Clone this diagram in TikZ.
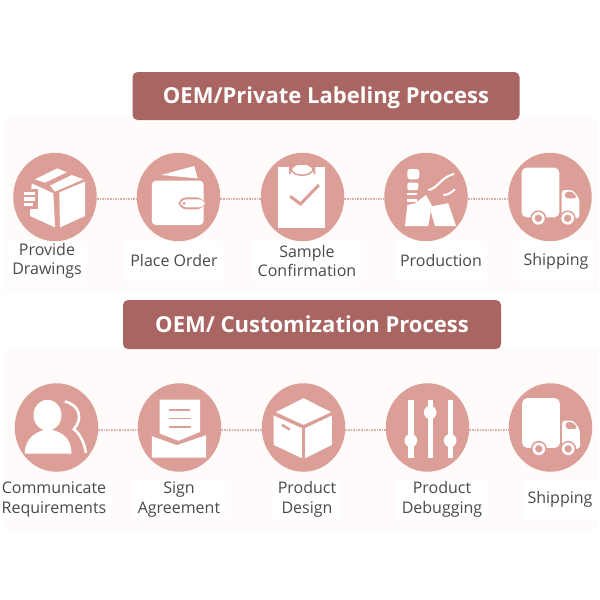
\documentclass[tikz,border=0pt]{standalone}
\usepackage{fontspec}
\setmainfont{Open Sans}
\usepackage{tikz}
\usetikzlibrary{shapes.geometric}
\definecolor{rosefill}{HTML}{DC9F98}
\definecolor{rosedark}{HTML}{A96562}
\definecolor{rosedots}{HTML}{DDAFAA}
\definecolor{panelpink}{HTML}{FEFBFA}
\definecolor{labelgray}{HTML}{4A4A4E}
\tikzset{
    stage/.style={ellipse, fill=rosefill, minimum width=83.5, minimum height=88.5, inner sep=0},
    banner/.style={rectangle, rounded corners=5, fill=rosedark, text=white, inner sep=0,
        text height=18, text depth=3, font=\fontsize{22}{26}\selectfont\bfseries},
    stagelabel/.style={fill=white, text=labelgray, align=center, inner sep=0, inner xsep=5,
        minimum height=40, font=\fontsize{16}{19.5}\selectfont},
    link/.style={rosedots, line width=1.6, densely dotted, transform canvas={yshift=-2.2}},
    ink/.style={fill=white, draw=none},
    pics/truck/.style={code={
        \fill[white, rounded corners=5] (-85,-88) rectangle (28,61);
        \fill[white, rounded corners=3] (35,-21) -- (68,-21) -- (88,5) -- (88,64) -- (35,64) -- cycle;
        \fill[rosefill, rounded corners=3] (45,-16) -- (68,-16) -- (82,4) -- (45,4) -- cycle;
        \foreach \wx in {-35,53} {
            \fill[rosefill] (\wx,64) circle (24);
            \fill[white] (\wx,64) circle (19);
            \fill[rosefill] (\wx,64) circle (11);
        }
    }}
}

\begin{document}
\begin{tikzpicture}[x=1pt, y=-1pt]
        \useasboundingbox (0,0) rectangle (600,600);
        % Panels
        \fill[panelpink] (4,118) rectangle (598,292);
        \fill[panelpink] (4,349) rectangle (598,530);

        % Banners
        \node[banner, minimum width=387, minimum height=48] (title1) at (326,96) {OEM/Private Labeling Process};
        \node[banner, minimum width=378, minimum height=49] (title2) at (312,324.5) {OEM/ Customization Process};

        % Labels
        \node[stagelabel] (label1) at (47,261) {Provide\\Drawings};
        \node[stagelabel] (label2) at (174,260.5) {Place Order};
        \node[stagelabel] (label3) at (307,261) {Sample\\Confirmation};
        \node[stagelabel] (label4) at (441,260.5) {Production};
        \node[stagelabel] (label5) at (556,261) {Shipping};
        \node[stagelabel] (label6) at (54,499.5) {Communicate\\Requirements};
        \node[stagelabel] (label7) at (179,499.5) {Sign\\Agreement};
        \node[stagelabel] (label8) at (307,499.5) {Product\\Design};
        \node[stagelabel] (label9) at (442,499.5) {Product\\Debugging};
        \node[stagelabel] (label10) at (560,499.5) {Shipping};

        % Circles
        \node[stage] (box) at (55,197) {};
        \node[stage] (wallet) at (178.5,197) {};
        \node[stage] (clipboard) at (302.5,197) {};
        \node[stage] (factory) at (426,197) {};
        \node[stage] (truck1) at (550,197) {};
        \node[stage] (person) at (56.5,427.5) {};
        \node[stage] (letter) at (179.5,427.5) {};
        \node[stage] (carton) at (303.5,427.5) {};
        \node[stage] (sliders) at (427.5,427.5) {};
        \node[stage] (truck2) at (550.5,427.5) {};

        % Dotted links
        \draw[link] (box) -- (wallet);
        \draw[link] (wallet) -- (clipboard);
        \draw[link] (clipboard) -- (factory);
        \draw[link] (factory) -- (truck1);
        \draw[link] (person) -- (letter);
        \draw[link] (letter) -- (carton);
        \draw[link] (carton) -- (sliders);
        \draw[link] (sliders) -- (truck2);

        % Icon: box and hand
        \begin{scope}[shift={(box.center)}, scale=1/3]
            \fill[ink] (-60,-53) -- (7,-86) -- (35,-74) -- (-30,-43) -- cycle;
            \fill[ink] (-15,-34) -- (50,-66) -- (85,-53) -- (0,-16) -- cycle;
            \fill[ink] (-70,-41) -- (-5,-11) -- (0,91) -- (-75,57) -- cycle;
            \fill[ink] (13,-14) -- (90,-46) -- (90,57) -- (15,91) -- cycle;
            \fill[rosefill] (-80,-25) rectangle (-52,35);
            \fill[ink] (-93,-16) rectangle (-60,-6);
            \fill[ink] (-93,1) rectangle (-60,11);
            \fill[ink] (-93,17) rectangle (-65,27);
        \end{scope}

        % Icon: wallet
        \begin{scope}[shift={(wallet.center)}, scale=1/3]
            \fill[ink] (-52,-66) -- (47,-93) -- (57,-56) -- cycle;
            \fill[white, rounded corners=4] (-80,-49) rectangle (75,84);
            \fill[rosefill, rounded corners=8] (0,1) rectangle (78,37);
            \fill[white, rounded corners=6] (6,7) rectangle (78,31);
            \fill[rosefill] (17,19) circle (5);
        \end{scope}

        % Icon: clipboard
        \begin{scope}[shift={(clipboard.center)}, scale=1/3]
            \fill[ink] (-73,-89) rectangle (66,94);
            \fill[white, draw=rosefill, line width=1.5, rounded corners=10] (-38,-99) rectangle (36,-66);
            \draw[rosefill, line width=3] (-37,-2) -- (-6,21) -- (49,-36);
        \end{scope}

        % Icon: factory
        \begin{scope}[shift={(factory.center)}, scale=1/3]
            \fill[white, rounded corners=3] (-56,-84) rectangle (-20,-53);
            \fill[white, rounded corners=2] (-56,-43) rectangle (-23,-21);
            \fill[ink] (-56,-11) rectangle (-28,-6);
            \fill[ink] (-56,7) rectangle (-26,14);
            \fill[ink] (-56,24) -- (-33,19) -- (0,-6) -- (17,24) -- (7,87) -- (-63,87) -- cycle;
            \fill[ink] (10,29) -- (67,19) -- (90,87) -- (27,87) -- cycle;
            \draw[white, line width=2] (7,-21) .. controls (35,-25) and (45,-60) .. (84,-69);
            \draw[white, line width=2] (52,-6) .. controls (65,-5) and (78,-15) .. (87,-23);
        \end{scope}

        % Icon: truck
        \pic[scale=1/3] at (truck1.center) {truck};

        % Icon: person
        \begin{scope}[shift={(person.center)}, scale=1/3]
            \fill[ink] (-27,-37) ellipse (42 and 46);
            \fill[ink] (-95,78) .. controls (-95,30) and (-60,15) .. (-40,8) -- (-10,8) .. controls (15,15) and (45,30) .. (45,78) -- cycle;
            \draw[white, line width=2.6] (25,-78) .. controls (70,-68) and (80,-25) .. (52,5) .. controls (72,20) and (85,50) .. (88,76);
        \end{scope}

        % Icon: agreement
        \begin{scope}[shift={(letter.center)}, scale=1/3]
            \fill[ink] (-60,-84) -- (62,-84) -- (62,13) -- (-3,40) -- (-60,18) -- cycle;
            \fill[ink] (-83,26) -- (-8,53) -- (80,23) -- (80,90) -- (-83,90) -- cycle;
            \draw[rosefill, line width=1.5] (-33,-52) -- (32,-52);
            \draw[rosefill, line width=1.5] (-33,-27) -- (34,-27);
            \draw[rosefill, line width=1.5] (-33,-2) -- (34,-2);
        \end{scope}

        % Icon: carton
        \begin{scope}[shift={(carton.center)}, scale=1/3]
            \fill[ink] (0,-88) -- (83,-46) -- (0,-8) -- (-83,-46) -- cycle;
            \fill[ink] (-90,-36) -- (-5,2) -- (-5,92) -- (-90,52) -- cycle;
            \fill[ink] (5,2) -- (85,-36) -- (85,52) -- (5,92) -- cycle;
            \draw[rosefill, line width=2.5] (-65,-8) -- (-41,6);
        \end{scope}

        % Icon: sliders
        \begin{scope}[shift={(sliders.center)}, scale=1/3]
            \fill[ink] (-58,-84) rectangle (-42,92);
            \fill[ink] (0,-84) rectangle (16,92);
            \fill[ink] (60,-84) rectangle (76,92);
            \fill[ink] (-50,39) ellipse (19 and 20);
            \fill[ink] (8,-45) ellipse (19 and 20);
            \fill[ink] (68,39) ellipse (19 and 20);
        \end{scope}

        % Icon: truck again
        \pic[scale=1/3] at (truck2.center) {truck};
    \end{tikzpicture}
\end{document}
